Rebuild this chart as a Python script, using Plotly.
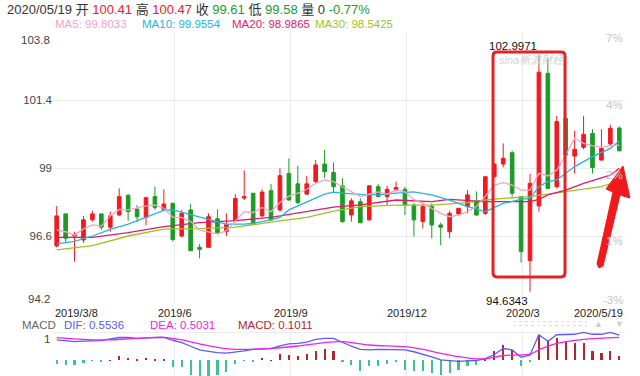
import plotly.graph_objects as go

# ---------------- data (weekly candles, 2019/3/8 .. 2020/5/19) ----------------
opens = [96.25, 97.38, 96.60, 96.46, 97.17, 97.38, 96.91, 97.34, 98.04, 97.55,
         97.26, 97.99, 97.52, 97.75, 96.60, 97.52, 96.20, 96.20, 97.21, 96.75,
         97.14, 97.94, 98.11, 97.31, 98.20, 97.52, 98.81, 98.44, 98.08, 98.52,
         99.14, 98.84, 98.37, 97.34, 97.81, 97.17, 98.34, 97.99, 98.25, 98.25,
         97.69, 97.11, 97.64, 96.99, 96.75, 97.38, 97.64, 97.81, 97.40, 98.69,
         99.14, 99.54, 97.99, 95.73, 97.66, 102.34, 98.34, 100.75, 99.42, 99.73,
         100.22, 99.28, 99.85, 100.41]
highs = [97.66, 97.40, 96.75, 97.31, 97.49, 97.40, 97.46, 98.28, 98.07, 97.69,
         97.99, 98.34, 98.25, 97.78, 97.52, 97.73, 96.32, 97.40, 97.54, 97.40,
         98.07, 98.91, 98.11, 98.25, 98.44, 98.99, 99.34, 99.08, 98.72, 99.28,
         99.64, 99.20, 98.64, 97.93, 97.93, 98.40, 98.44, 98.37, 98.52, 98.34,
         97.75, 97.78, 97.75, 97.07, 97.49, 97.58, 98.22, 98.17, 98.72, 99.14,
         99.87, 99.61, 98.01, 98.79, 102.9971, 102.87, 100.84, 100.95, 100.32, 100.84,
         100.37, 100.37, 100.52, 100.47]
lows = [96.20, 96.39, 95.69, 96.36, 97.11, 96.81, 96.75, 97.31, 97.14, 97.10,
        96.99, 97.52, 97.50, 96.40, 96.55, 96.08, 95.81, 96.20, 96.69, 96.60,
        97.14, 97.87, 96.99, 97.26, 97.14, 97.46, 97.85, 97.73, 98.05, 98.46,
        98.64, 98.11, 97.07, 97.11, 97.05, 97.14, 97.97, 97.66, 98.17, 97.34,
        96.58, 96.87, 96.52, 96.28, 96.52, 97.34, 97.40, 97.31, 97.34, 98.67,
        99.02, 97.99, 95.66, 94.6343, 97.46, 98.26, 98.28, 99.42, 98.81, 99.66,
        98.81, 99.26, 99.78, 99.58]
closes = [97.31, 96.52, 96.65, 97.17, 97.38, 96.91, 97.31, 97.99, 97.46, 97.28,
          97.95, 97.61, 97.73, 96.48, 97.40, 96.08, 96.13, 97.28, 96.72, 97.00,
          97.92, 97.99, 97.01, 98.15, 97.17, 98.73, 97.87, 97.78, 98.44, 99.11,
          98.87, 98.34, 97.11, 97.84, 97.07, 98.37, 97.99, 98.25, 98.31, 97.69,
          97.17, 97.64, 96.99, 96.91, 97.40, 97.58, 98.05, 97.34, 98.69, 99.14,
          99.34, 98.11, 96.05, 98.46, 102.38, 98.28, 100.64, 99.46, 99.66, 100.19,
          99.02, 99.69, 100.40, 99.61]
week_idx = list(range(len(closes)))

ma5 = [96.81, 96.75, 96.63, 96.85, 96.99, 96.95, 97.31, 97.54, 97.52, 97.58,
       97.66, 97.69, 97.58, 97.26, 97.26, 97.11, 96.81, 96.75, 96.67, 96.79,
       97.11, 97.46, 97.43, 97.61, 97.46, 97.78, 98.01, 98.11, 98.25, 98.46,
       98.58, 98.52, 98.34, 98.15, 97.99, 98.08, 98.16, 98.08, 98.22, 98.16,
       97.89, 97.75, 97.58, 97.40, 97.28, 97.34, 97.46, 97.64, 98.01, 98.40,
       98.48, 98.40, 98.22, 98.22, 98.81, 98.72, 98.93, 99.45, 100.05, 99.87,
       99.78, 99.73, 99.78, 99.8033]
ma10_idx = [0, 2, 4, 6, 8, 10, 12, 13, 15, 17, 19, 21, 22, 24, 25, 26, 27, 28, 29, 30, 31,
            32, 34, 36, 38, 40, 42, 44, 46, 48, 50, 52, 53, 54, 55, 56, 58, 60, 62, 63]
ma10 = [96.32, 96.41, 96.60, 96.83, 97.02, 97.26, 97.50, 97.52, 97.35, 97.17, 97.02,
        97.02, 97.05, 97.17, 97.26, 97.52, 97.66, 97.81, 97.93, 98.08, 98.15,
        98.11, 98.07, 98.05, 98.11, 98.16, 98.05, 97.87, 97.64, 97.46, 97.75, 97.89,
        97.93, 98.34, 98.52, 98.58, 99.05, 99.40, 99.69, 99.9554]
ma20_idx = [0, 4, 8, 12, 16, 20, 24, 28, 31, 34, 38, 42, 44, 48, 53, 54, 55, 57, 59, 62, 63]
ma20 = [96.55, 96.55, 96.72, 96.93, 97.07, 97.14, 97.26, 97.46, 97.62, 97.70, 97.87,
        97.81, 97.89, 97.81, 97.81, 97.89, 98.05, 98.22, 98.46, 98.75, 98.9865]
ma30_idx = [0, 4, 8, 12, 16, 20, 24, 28, 31, 34, 38, 42, 46, 48, 50, 53, 55, 57, 59, 61, 63]
ma30 = [96.11, 96.26, 96.60, 96.84, 96.86, 96.91, 97.09, 97.26, 97.48, 97.64, 97.69,
        97.69, 97.78, 97.87, 97.93, 97.99, 98.08, 98.16, 98.25, 98.34, 98.5425]

dif = [0.45, 0.43, 0.41, 0.42, 0.43, 0.43, 0.47, 0.50, 0.50, 0.48,
       0.49, 0.50, 0.50, 0.44, 0.39, 0.31, 0.23, 0.20, 0.17, 0.16,
       0.18, 0.21, 0.24, 0.25, 0.26, 0.32, 0.36, 0.37, 0.40, 0.46,
       0.48, 0.48, 0.39, 0.31, 0.24, 0.23, 0.24, 0.24, 0.23, 0.23,
       0.19, 0.14, 0.08, 0.015, -0.01, -0.02, -0.01, 0.0, 0.04, 0.13,
       0.26, 0.23, 0.07, 0.12, 0.56, 0.42, 0.56, 0.57, 0.57, 0.61,
       0.57, 0.57, 0.61, 0.5536]
dea_idx = [0, 5, 9, 12, 14, 16, 18, 20, 24, 27, 30, 32, 35, 39, 41, 43, 45, 47, 48, 50,
           53, 54, 56, 59, 63]
dea = [0.496, 0.446, 0.482, 0.504, 0.446, 0.359, 0.286, 0.243, 0.264, 0.315, 0.39,
       0.409, 0.337, 0.30, 0.243, 0.156, 0.083, 0.036, 0.036, 0.109, 0.138, 0.232,
       0.373, 0.46, 0.5031]
macd_hist = [-0.072, -0.087, -0.094, -0.05, -0.01, -0.02, 0.005, 0.087, 0.05, 0.03,
             0.05, 0.036, 0.02, -0.145, -0.145, -0.31, -0.34, -0.34, -0.31, -0.24,
             -0.07, -0.01, -0.04, 0.058, 0.01, 0.145, 0.123, 0.087, 0.138, 0.196,
             0.246, 0.196, -0.022, -0.094, -0.239, -0.130, -0.130, -0.072, -0.043, -0.217,
             -0.239, -0.239, -0.275, -0.311, -0.275, -0.203, -0.130, -0.094, 0.036, 0.210,
             0.341, 0.232, -0.116, -0.022, 0.558, 0.449, 0.486, 0.413, 0.377, 0.377,
             0.196, 0.159, 0.210, 0.1011]

x_tick_pos = [13.2, 26.2, 39.2, 52.2]
x_tick_text = ["2019/6", "2019/9", "2019/12", "2020/3"]
x_end_labels = ["2019/3/8", "2020/5/19"]
price_ticks = [94.2, 96.6, 99.0, 101.4, 103.8]
price_tick_text = ["94.2", "96.6", "99", "101.4", "103.8"]
pct_labels = ["-3%", "1%", "2%", "4%", "7%"]

# ---------------- styling ----------------
RED = "#f2191f"
GREEN = "#1c9c26"
PINK = "#f5a3c6"
CYAN = "#26b4dc"
CRIMSON = "#e2196c"
OLIVE = "#9cc41f"
DIF_C = "#5b5bf2"
DEA_C = "#ee22ee"
HRED = "#b3262c"
HGREEN = "#3fc196"
GRID = "#ececec"
FONT = "Liberation Sans, Arial, Noto Sans CJK SC, sans-serif"

W, H = 640, 376
ML, MR, MT, MB = 53, 15, 32, 0
PW, PH = W - ML - MR, H - MT - MB


def px(x):
    return (x - ML) / PW


def py(y):
    return (H - y) / PH


fig = go.Figure()

fig.add_trace(go.Candlestick(
    x=week_idx, open=opens, high=highs, low=lows, close=closes,
    increasing=dict(line=dict(color=RED, width=1), fillcolor=RED),
    decreasing=dict(line=dict(color=GREEN, width=1), fillcolor=GREEN),
    whiskerwidth=0, xaxis="x", yaxis="y", showlegend=False))

for xs, ys, c in [(ma30_idx, ma30, OLIVE), (ma20_idx, ma20, CRIMSON),
                  (ma10_idx, ma10, CYAN), (week_idx, ma5, PINK)]:
    fig.add_trace(go.Scatter(x=xs, y=ys, mode="lines", line=dict(color=c, width=1.3),
                             xaxis="x", yaxis="y", showlegend=False, hoverinfo="skip"))

fig.add_trace(go.Bar(x=week_idx, y=macd_hist, width=0.24,
                     marker=dict(color=[HRED if v >= 0 else HGREEN for v in macd_hist], line=dict(width=0)),
                     xaxis="x2", yaxis="y2", showlegend=False))
fig.add_trace(go.Scatter(x=week_idx, y=dif, mode="lines", line=dict(color=DIF_C, width=1.3),
                         xaxis="x2", yaxis="y2", showlegend=False))
fig.add_trace(go.Scatter(x=dea_idx, y=dea, mode="lines", line=dict(color=DEA_C, width=1.3, shape="spline"),
                         xaxis="x2", yaxis="y2", showlegend=False))

xr = [-(56.7 - ML) / 8.93, 63 + (W - MR - 619.3) / 8.93]
ybot_price = py(304)
macd_top = py(331)

fig.update_layout(
    width=W, height=H, margin=dict(l=ML, r=MR, t=MT, b=MB),
    paper_bgcolor="white", plot_bgcolor="white",
    font=dict(family=FONT, size=12, color="#333"),
    boxgap=0.42,
    xaxis=dict(domain=[0, 1], anchor="y", range=xr, rangeslider=dict(visible=False),
               tickvals=x_tick_pos, showticklabels=False, showgrid=True, gridcolor=GRID,
               zeroline=False, showline=False, ticks=""),
    xaxis2=dict(domain=[0, 1], anchor="y2", range=xr, matches="x", rangeslider=dict(visible=False),
                tickvals=x_tick_pos, showticklabels=False, showgrid=True, gridcolor=GRID,
                zeroline=False, showline=False, ticks=""),
    yaxis=dict(domain=[ybot_price, 1], range=[94.2, 103.8], tickvals=price_ticks,
               ticktext=["", "96.6", "99", "101.4", ""], showgrid=True, gridcolor=GRID,
               zeroline=False, ticks="", tickfont=dict(size=11.5, color="#444")),
    yaxis2=dict(domain=[0, macd_top], range=[-0.337, 0.641], tickvals=[0.6],
                showticklabels=False, showgrid=True, gridcolor=GRID, zeroline=False),
    bargap=0,
)

ann = []
# header line
hdr = ('2020/05/19 开 <span style="color:%s">100.41</span> 高 <span style="color:%s">100.47</span> '
       '收 <span style="color:%s">99.61</span> 低 <span style="color:%s">99.58</span> 量 0 '
       '<span style="color:%s">-0.77%%</span>') % (RED, RED, GREEN, GREEN, GREEN)
ann.append(dict(text=hdr, x=px(5), y=py(9), xref="paper", yref="paper", xanchor="left",
                yanchor="middle", showarrow=False, font=dict(size=13, color="#333")))
for t, x0, c in [("MA5: 99.8033", 53, PINK), ("MA10: 99.9554", 140, CYAN),
                 ("MA20: 98.9865", 230, CRIMSON), ("MA30: 98.5425", 313, OLIVE)]:
    ann.append(dict(text=t, x=px(x0), y=py(24), xref="paper", yref="paper", xanchor="left",
                    yanchor="middle", showarrow=False, font=dict(size=11.5, color=c)))
# extreme left axis labels
ann.append(dict(text=price_tick_text[-1], x=0, y=103.8, xref="paper", yref="y", xanchor="right",
                yanchor="middle", yshift=-8, xshift=-1, showarrow=False, font=dict(size=11.5, color="#444")))
ann.append(dict(text=price_tick_text[0], x=0, y=94.2, xref="paper", yref="y", xanchor="right",
                yanchor="middle", yshift=5, xshift=-1, showarrow=False, font=dict(size=11.5, color="#444")))
# right percent labels
for t, yv, sh in zip(pct_labels, price_ticks, [4, -5, -7, -5, -6]):
    ann.append(dict(text=t, x=1, y=yv, xref="paper", yref="y", xanchor="right", yanchor="middle",
                    yshift=sh, showarrow=False, font=dict(size=11.5, color="#c4c4c4")))
# x axis labels (drawn between the two panels)
XL_Y = py(312.5)
for t, xv in zip(x_tick_text, x_tick_pos):
    ann.append(dict(text=t, x=xv, y=XL_Y, xref="x", yref="paper", xanchor="center",
                    yanchor="middle", showarrow=False, font=dict(size=11, color="#222")))
ann.append(dict(text=x_end_labels[0], x=0, y=XL_Y, xref="paper", yref="paper", xanchor="left",
                yanchor="middle", showarrow=False, font=dict(size=11, color="#222")))
ann.append(dict(text=x_end_labels[1], x=1, y=XL_Y, xref="paper", yref="paper", xanchor="right",
                yanchor="middle", showarrow=False, font=dict(size=11, color="#222")))
# extremes
ann.append(dict(text="102.9971", x=54, y=102.9971, xref="x", yref="y", xanchor="right",
                yanchor="bottom", yshift=1, showarrow=False, font=dict(size=11.5, color="#111")))
ann.append(dict(text="94.6343", x=53, y=94.6343, xref="x", yref="y", xanchor="right",
                yanchor="top", yshift=-1, showarrow=False, font=dict(size=11.5, color="#111")))
# watermark
ann.append(dict(text="<i>sina新浪财经</i>", x=px(497), y=py(60), xref="paper", yref="paper",
                xanchor="left", yanchor="middle", showarrow=False, font=dict(size=11, color="#d2d2d2")))
# MACD legend
for t, x0, c in [("MACD", 20, "#666"), ("DIF: 0.5536", 62, DIF_C), ("DEA: 0.5031", 148, DEA_C),
                 ("MACD: 0.1011", 236, HRED)]:
    ann.append(dict(text=t, x=px(x0), y=py(325), xref="paper", yref="paper", xanchor="left",
                    yanchor="middle", showarrow=False, font=dict(size=11.5, color=c)))
ann.append(dict(text="1", x=0, y=0.6, xref="paper", yref="y2", xanchor="right", yanchor="middle",
                yshift=-6, xshift=-1, showarrow=False, font=dict(size=11.5, color="#444")))
for t, x0 in [("▲", 598), ("▼", 619)]:
    ann.append(dict(text=t, x=px(x0), y=py(324), xref="paper", yref="paper", xanchor="center",
                    yanchor="middle", showarrow=False, font=dict(size=9, color="#cccccc")))
fig.update_layout(annotations=ann)

# red rounded box around the March 2020 swing
x0b, x1b, y0b, y1b = 48.86, 56.92, 95.15, 103.09
rx, ry = 0.45, 0.14
box = (f"M {x0b+rx},{y1b} L {x1b-rx},{y1b} Q {x1b},{y1b} {x1b},{y1b-ry} "
       f"L {x1b},{y0b+ry} Q {x1b},{y0b} {x1b-rx},{y0b} L {x0b+rx},{y0b} "
       f"Q {x0b},{y0b} {x0b},{y0b+ry} L {x0b},{y1b-ry} Q {x0b},{y1b} {x0b+rx},{y1b} Z")
shapes = [dict(type="path", path=box, xref="x", yref="y", line=dict(color="#ea2027", width=3))]

# red arrow
pts = [(623, 166), (630, 198), (620, 195), (603, 266), (599, 268), (597, 264), (613, 192), (606, 189)]
arrow = "M " + " L ".join(f"{px(a):.5f},{py(b):.5f}" for a, b in pts) + " Z"
shapes.append(dict(type="path", path=arrow, xref="paper", yref="paper",
                   fillcolor="#f01a1a", line=dict(color="#f01a1a", width=1)))
# dotted decoration in MACD legend row
for yy in (321.5, 325.5):
    shapes.append(dict(type="line", x0=px(513), x1=px(587), y0=py(yy), y1=py(yy), xref="paper",
                       yref="paper", line=dict(color="#dddddd", width=1, dash="dot")))
fig.update_layout(shapes=shapes)

fig.write_html("out.html", config={"displayModeBar": False},
               post_script="document.body.style.margin='0';document.body.style.overflow='hidden';")
